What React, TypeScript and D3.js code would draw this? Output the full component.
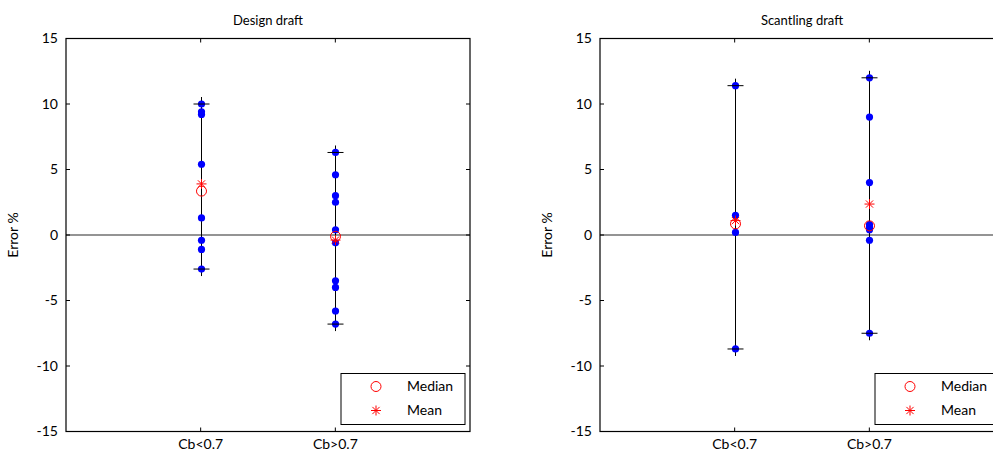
import React from "react";
import * as d3 from "d3";

const categories = ["Cb<0.7", "Cb>0.7"];
const titles = ["Design draft", "Scantling draft"];
const designLow = [10.0, 9.4, 9.2, 5.4, 1.3, -0.4, -1.1, -2.6];
const designHigh = [6.3, 4.6, 3.0, 2.5, 0.4, -0.6, -3.5, -4.0, -5.8, -6.8];
const scantLow = [11.4, 1.5, 0.2, -8.7];
const scantHigh = [12.0, 9.0, 4.0, 0.8, 0.6, 0.4, -0.4, -7.5];
const yTicks = [-15, -10, -5, 0, 5, 10, 15];
const legendLabels = ["Median", "Mean"];

const FONT = "Lato, 'Open Sans', sans-serif";
const W = 993;
const H = 453;

function Star({ x, y, s, color }: { x: number; y: number; s: number; color: string }) {
  const d = s * 0.72;
  return (
    <g stroke={color} strokeWidth={1}>
      <line x1={x - s} x2={x + s} y1={y} y2={y} />
      <line x1={x} x2={x} y1={y - s} y2={y + s} />
      <line x1={x - d} x2={x + d} y1={y - d} y2={y + d} />
      <line x1={x - d} x2={x + d} y1={y + d} y2={y - d} />
    </g>
  );
}

function Panel({ x0, x1, title, groups }: { x0: number; x1: number; title: string; groups: number[][] }) {
  const top = 38.5;
  const bottom = 431.5;
  const x = d3.scaleLinear().domain([0, 3]).range([x0, x1]);
  const y = d3.scaleLinear().domain([-15, 15]).range([bottom, top]);
  const legX = x0 + 275;
  return (
    <g>
      <text x={(x0 + x1) / 2} y={25} textAnchor="middle" fontFamily={FONT} fontSize={13}>
        {title}
      </text>
      <line x1={x0} x2={x1} y1={y(0)} y2={y(0)} stroke="#2a2a2a" strokeWidth={1.2} />
      {groups.map((vals, i) => {
        const cx = Math.round(x(i + 1)) + 0.5;
        const mn = d3.min(vals)!;
        const mx = d3.max(vals)!;
        const med = d3.median(vals)!;
        const mean = d3.mean(vals)!;
        return (
          <g key={i}>
            <line x1={cx} x2={cx} y1={y(mx) - 7} y2={y(mn) + 7} stroke="#000" strokeWidth={1} />
            {vals.map((v, j) => (
              <circle key={j} cx={cx} cy={y(v)} r={3.6} fill="#0000ff" />
            ))}
            {[mn, mx].map((v, j) => (
              <line key={"p" + j} x1={cx - 8} x2={cx + 8} y1={y(v)} y2={y(v)} stroke="#000" strokeWidth={1} />
            ))}
            <circle cx={cx} cy={y(med)} r={5} fill="none" stroke="#ff0000" strokeWidth={1} />
            <Star x={cx} y={y(mean)} s={5} color="#ff0000" />
          </g>
        );
      })}
      <rect x={x0} y={top} width={x1 - x0} height={bottom - top} fill="none" stroke="#000" strokeWidth={1.2} />
      {yTicks.map((t) => (
        <g key={t}>
          <line x1={x0} x2={x0 + 4} y1={y(t)} y2={y(t)} stroke="#000" />
          <line x1={x1} x2={x1 - 4} y1={y(t)} y2={y(t)} stroke="#000" />
          <text x={x0 - 8} y={y(t)} dy="0.35em" textAnchor="end" fontFamily={FONT} fontSize={14}>
            {t}
          </text>
        </g>
      ))}
      {categories.map((c, i) => (
        <g key={c}>
          <line x1={x(i + 1)} x2={x(i + 1)} y1={bottom} y2={bottom - 4} stroke="#000" />
          <line x1={x(i + 1)} x2={x(i + 1)} y1={top} y2={top + 4} stroke="#000" />
          <text x={x(i + 1)} y={449} textAnchor="middle" fontFamily={FONT} fontSize={14}>
            {c}
          </text>
        </g>
      ))}
      <text
        transform={`translate(${x0 - 48},${y(0)}) rotate(-90)`}
        textAnchor="middle"
        fontFamily={FONT}
        fontSize={14}
      >
        Error %
      </text>
      <rect x={legX} y={373.5} width={124} height={51} fill="#fff" stroke="#000" strokeWidth={1} />
      <circle cx={legX + 35} cy={386.5} r={5} fill="none" stroke="#ff0000" />
      <Star x={legX + 35} y={410.5} s={5} color="#ff0000" />
      {legendLabels.map((l, i) => (
        <text key={l} x={legX + 66} y={386.5 + i * 24} dy="0.35em" fontFamily={FONT} fontSize={14}>
          {l}
        </text>
      ))}
    </g>
  );
}

export default function App() {
  return (
    <svg width={W} height={H} style={{ position: "absolute", left: 0, top: 0, background: "#fff" }}>
      <rect width={W} height={H} fill="#fff" />
      <Panel x0={66} x1={470} title={titles[0]} groups={[designLow, designHigh]} />
      <Panel x0={600} x1={1004} title={titles[1]} groups={[scantLow, scantHigh]} />
    </svg>
  );
}
